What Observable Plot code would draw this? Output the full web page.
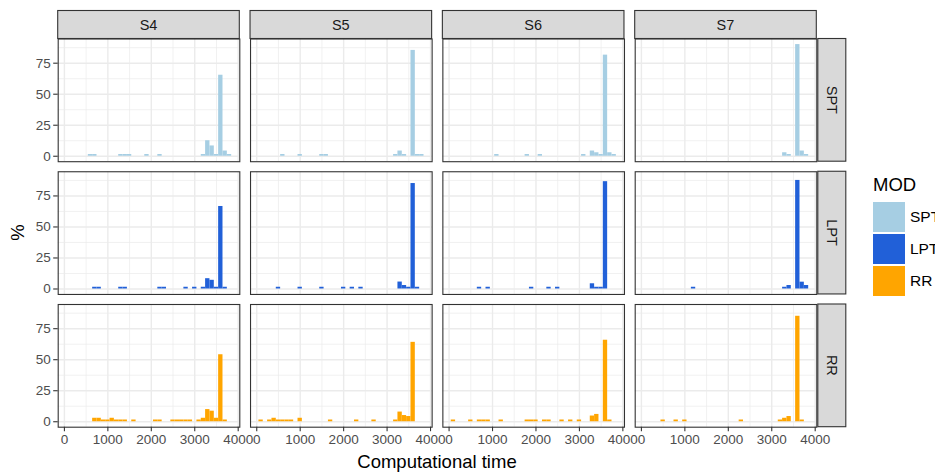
<!DOCTYPE html>
<html><head><meta charset="utf-8">
<script src="https://cdn.jsdelivr.net/npm/d3@7"></script>
<script src="https://cdn.jsdelivr.net/npm/@observablehq/plot@0.6"></script>
<style>
html,body{margin:0;padding:0;background:#fff;overflow:hidden;}
#wrap{position:relative;width:935px;height:475px;overflow:hidden;font-family:"Liberation Sans",Arial,sans-serif;}
#legend{position:absolute;left:873px;top:174px;color:#000;}
#legend .title{font-size:18.5px;line-height:21px;margin-bottom:6px;}
#legend .item{display:flex;align-items:center;height:32px;white-space:nowrap;}
#legend .key{width:32px;height:30px;margin-right:5px;}
#legend .lab{font-size:15.5px;}
</style></head><body><div id="wrap"></div>
<script>
const columns = ["S4", "S5", "S6", "S7"];
const rows = ["SPT", "LPT", "RR"];
const colors = ["#A6CEE3", "#2160D8", "#FFA500"];
const binWidth = 100;
const xTicks = [0, 1000, 2000, 3000, 4000];
const xMinor = [500, 1500, 2500, 3500];
const yTicks = [0, 25, 50, 75];
const yMinor = [12.5, 37.5, 62.5, 87.5];

// [bin centre (computational time), % of runs]
const SPT_S4 = [[600,1.4],[700,1.4],[1300,1.4],[1400,1.4],[1500,1.4],[1900,1.4],[2200,1.4],[3200,1.4],[3300,12.5],[3400,8.3],[3500,1.4],[3600,65.3],[3700,4.2],[3800,1.4]];
const SPT_S5 = [[600,1.4],[1000,1.4],[1500,1.4],[1600,1.4],[3200,1.4],[3300,4.2],[3400,1.4],[3600,85.3],[3700,1.4],[3800,1.4]];
const SPT_S6 = [[1100,1.4],[1800,1.4],[2100,1.4],[3100,1.4],[3300,4.2],[3400,2.8],[3500,1.4],[3600,81.5],[3700,2.8],[3800,1.4]];
const SPT_S7 = [[3300,2.8],[3400,1.4],[3600,90],[3700,4.2],[3800,1.4]];
const LPT_S4 = [[700,1.4],[800,1.4],[1300,1.4],[1400,1.4],[2200,1.4],[2300,1.4],[2800,1.4],[3000,1.4],[3200,1.4],[3300,8.3],[3400,7],[3500,1.4],[3600,66.5],[3700,1.4]];
const LPT_S5 = [[500,1.4],[1000,1.4],[1500,1.4],[2000,1.4],[2200,1.4],[2400,1.4],[3300,5.6],[3400,2.8],[3500,1.4],[3600,85],[3700,1.4]];
const LPT_S6 = [[700,1.4],[900,1.4],[1900,1.4],[2300,1.4],[2500,1.4],[3300,4.2],[3400,1.4],[3500,1.4],[3600,86.5]];
const LPT_S7 = [[1200,1.4],[3300,1.4],[3400,2.8],[3600,87.5],[3700,5.5],[3800,2.8]];
const RR_S4 = [[700,2.8],[800,2.8],[900,1.4],[1000,1.4],[1100,2.8],[1200,1.4],[1300,1.4],[1400,1.4],[1600,1.4],[2100,1.4],[2200,1.4],[2500,1.4],[2600,1.4],[2700,1.4],[2800,1.4],[2900,1.4],[3100,1.4],[3200,2.8],[3300,9.8],[3400,8.5],[3500,2.8],[3600,54],[3700,1.4]];
const RR_S5 = [[100,1.4],[300,1.4],[400,2.8],[500,1.4],[600,1.4],[700,1.4],[800,1.4],[1000,2.8],[1700,1.4],[2300,1.4],[2700,1.4],[3200,1.4],[3300,7.8],[3400,5],[3500,4.2],[3600,64]];
const RR_S6 = [[100,1.4],[500,1.4],[700,1.4],[800,1.4],[900,1.4],[1200,1.4],[1800,1.4],[1900,1.4],[2000,1.4],[2200,1.4],[2300,1.4],[2600,1.4],[2800,1.4],[3000,1.4],[3300,4.6],[3400,5.9],[3600,65.7],[3700,1.4]];
const RR_S7 = [[500,1.4],[800,1.4],[1000,1.4],[2300,1.4],[3200,1.4],[3300,2.8],[3400,4.2],[3600,85],[3700,1.4]];

const panels = {
  SPT: {S4: SPT_S4, S5: SPT_S5, S6: SPT_S6, S7: SPT_S7},
  LPT: {S4: LPT_S4, S5: LPT_S5, S6: LPT_S6, S7: LPT_S7},
  RR:  {S4: RR_S4,  S5: RR_S5,  S6: RR_S6,  S7: RR_S7}
};
const bars = [];
for (const r of rows) for (const c of columns) for (const [t, p] of panels[r][c])
  bars.push({MOD: r, S: c, x1: t - binWidth / 2, x2: t + binWidth / 2, pct: p});

const W = 935, H = 475;
const font = '"Liberation Sans", Arial, sans-serif';
const chart = Plot.plot({
  width: W, height: H,
  marginLeft: 57.7, marginRight: 118.7, marginTop: 38.5, marginBottom: 48.3,
  style: {fontFamily: font, fontSize: "13.5px", background: "transparent", overflow: "visible"},
  fx: {domain: columns, paddingInner: 0.0558, paddingOuter: 0, round: false, axis: null},
  fy: {domain: rows, paddingInner: 0.0757, paddingOuter: 0, round: false, axis: null},
  x: {domain: [-143, 4037]},
  y: {domain: [-4.4, 94.5]},
  color: {domain: rows, range: colors},
  marks: [
    Plot.frame({fill: "white"}),
    Plot.ruleX(xMinor, {stroke: "#EBEBEB", strokeWidth: 0.7}),
    Plot.ruleY(yMinor, {stroke: "#EBEBEB", strokeWidth: 0.7}),
    Plot.ruleX(xTicks, {stroke: "#EBEBEB", strokeWidth: 1.4}),
    Plot.ruleY(yTicks, {stroke: "#EBEBEB", strokeWidth: 1.4}),
    Plot.rectY(bars, {x1: "x1", x2: "x2", y: "pct", fx: "S", fy: "MOD", fill: "MOD"}),
    Plot.frame({stroke: "#333333", strokeWidth: 1.1}),
    Plot.axisX({ticks: xTicks, tickFormat: "d", tickSize: 4.5, tickPadding: 3, fontSize: 13.5, fill: "#4D4D4D", stroke: "#333333", strokeWidth: 1.1, label: null}),
    Plot.axisY({ticks: yTicks, tickSize: 4.5, tickPadding: 3, fontSize: 13.5, fill: "#4D4D4D", stroke: "#333333", strokeWidth: 1.1, label: null})
  ]
});

// facet strips (ggplot style) placed with Plot's own facet scales
const fx = chart.scale("fx"), fy = chart.scale("fy");
const svg = d3.select(chart);
const stripTop = 10.5;
const g = svg.append("g").attr("font-family", font);
for (const c of columns) {
  const x0 = fx.apply(c);
  g.append("rect").attr("x", x0).attr("y", stripTop).attr("width", fx.bandwidth).attr("height", 38.5 - stripTop)
    .attr("fill", "#D9D9D9").attr("stroke", "#333333").attr("stroke-width", 1.1);
  g.append("text").attr("x", x0 + fx.bandwidth / 2).attr("y", (stripTop + 38.5) / 2).attr("text-anchor", "middle")
    .attr("dy", "0.35em").attr("font-size", 14.5).attr("fill", "#1A1A1A").text(c);
}
const sx = W - 118.7 + 1.5, sw = 28;
for (const r of rows) {
  const y0 = fy.apply(r);
  g.append("rect").attr("x", sx).attr("y", y0).attr("width", sw).attr("height", fy.bandwidth)
    .attr("fill", "#D9D9D9").attr("stroke", "#333333").attr("stroke-width", 1.1);
  g.append("text").attr("transform", `translate(${sx + sw / 2},${y0 + fy.bandwidth / 2}) rotate(90)`)
    .attr("text-anchor", "middle").attr("dy", "0.35em").attr("font-size", 14.5).attr("fill", "#1A1A1A").text(r);
}
const plotMidX = (57.7 + (W - 118.7)) / 2, plotMidY = (38.5 + (H - 48.3)) / 2;
g.append("text").attr("x", plotMidX).attr("y", 468).attr("text-anchor", "middle").attr("font-size", 18.5).attr("fill", "#000").text("Computational time");
g.append("text").attr("transform", `translate(24,${plotMidY}) rotate(-90)`).attr("text-anchor", "middle").attr("font-size", 18.5).attr("fill", "#000").text("%");

const wrap = document.getElementById("wrap");
wrap.appendChild(chart);
const legend = document.createElement("div");
legend.id = "legend";
legend.innerHTML = `<div class="title">MOD</div>` + rows.map((r, i) =>
  `<div class="item"><div class="key" style="background:${colors[i]}"></div><span class="lab">${r}</span></div>`).join("");
wrap.appendChild(legend);
</script></body></html>
